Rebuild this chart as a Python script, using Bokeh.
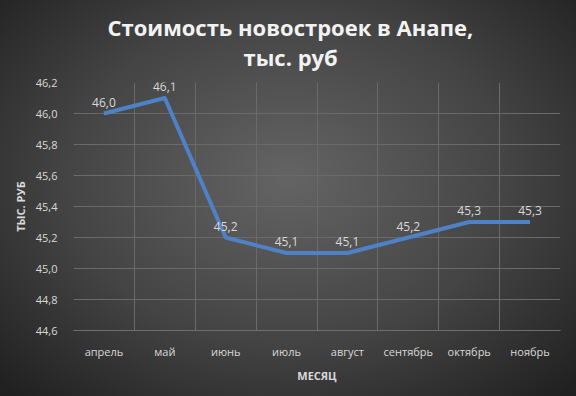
from bokeh.plotting import figure
from bokeh.models import (ColumnDataSource, FixedTicker, LabelSet, Title,
                          CustomJSTickFormatter, Range1d, InlineStyleSheet)
from bokeh.core.properties import value
from bokeh.embed import file_html
from bokeh.resources import INLINE

months = ["апрель", "май", "июнь", "июль", "август", "сентябрь", "октябрь", "ноябрь"]
prices = [46.0, 46.1, 45.2, 45.1, 45.1, 45.2, 45.3, 45.3]
y_ticks = [44.6, 44.8, 45.0, 45.2, 45.4, 45.6, 45.8, 46.0, 46.2]

xs = [i + 0.5 for i in range(len(months))]
labels = [f"{v:.1f}".replace(".", ",") for v in prices]
src = ColumnDataSource(dict(x=xs, y=prices, lab=labels))

FONT = "Open Sans"
TXT = "#d9d9d9"

p = figure(width=576, height=396, output_backend="svg", toolbar_location=None,
           x_range=Range1d(0, len(months)), y_range=Range1d(44.6, 46.2),
           min_border_left=73, min_border_right=16, min_border_top=82,
           min_border_bottom=66)
p.border_fill_color = None
p.background_fill_color = None
p.outline_line_color = None
grad = "radial-gradient(ellipse 70% 75% at 50% 45%, #646464 0%, #444444 55%, #202020 100%)"
p.styles = {"background": grad, "background-image": grad}
p.stylesheets = [InlineStyleSheet(css=f":host, .bk-Canvas, .bk-canvas-events {{ background-image: {grad} !important; }}")]

# titles (first added is closest to plot)
t2 = Title(text="тыс. руб", align="left", text_font=FONT, text_font_size="22px",
           text_font_style="bold", text_color="#f2f2f2", standoff=22, offset=170)
t1 = Title(text="Стоимость  новостроек  в Анапе,", align="left", text_font=FONT,
           text_font_size="22px", text_font_style="bold", text_color="#f2f2f2",
           standoff=-26, offset=34)
p.add_layout(t2, "above")
p.add_layout(t1, "above")

p.line("x", "y", source=src, line_color="#4f81c7", line_width=4, line_join="round")
p.add_layout(LabelSet(x="x", y="y", text="lab", source=src, text_align="center",
                      text_baseline="bottom", y_offset=7, text_font_size=value("12px"),
                      text_font=value(FONT), text_color=value(TXT)))

# x axis
p.xaxis.ticker = FixedTicker(ticks=xs)
p.xaxis.major_label_overrides = {x: m for x, m in zip(xs, months)}
p.xaxis.axis_label = "МЕСЯЦ"
p.xgrid.ticker = FixedTicker(ticks=list(range(len(months) + 1)))

# y axis
p.yaxis.ticker = FixedTicker(ticks=y_ticks)
p.yaxis.formatter = CustomJSTickFormatter(code="return tick.toFixed(1).replace('.', ',');")
p.yaxis.axis_label = "ТЫС. РУБ"

for ax in (p.xaxis, p.yaxis):
    ax.major_label_text_font = FONT
    ax.major_label_text_font_size = "11px"
    ax.major_label_text_color = TXT
    ax.axis_label_text_font = FONT
    ax.axis_label_text_font_size = "11px"
    ax.axis_label_text_font_style = "bold"
    ax.axis_label_text_color = TXT
    ax.major_tick_line_color = None
    ax.minor_tick_line_color = None

p.xaxis.axis_line_color = "#6e6e6e"
p.yaxis.axis_line_color = None
p.xaxis.major_label_standoff = 7
p.xaxis.axis_label_standoff = 6
p.yaxis.major_label_standoff = 10
p.yaxis.axis_label_standoff = 5

for g in (p.xgrid, p.ygrid):
    g.grid_line_color = "#6a6a6a"
    g.grid_line_width = 1

open("out.html", "w").write(file_html(p, INLINE))
